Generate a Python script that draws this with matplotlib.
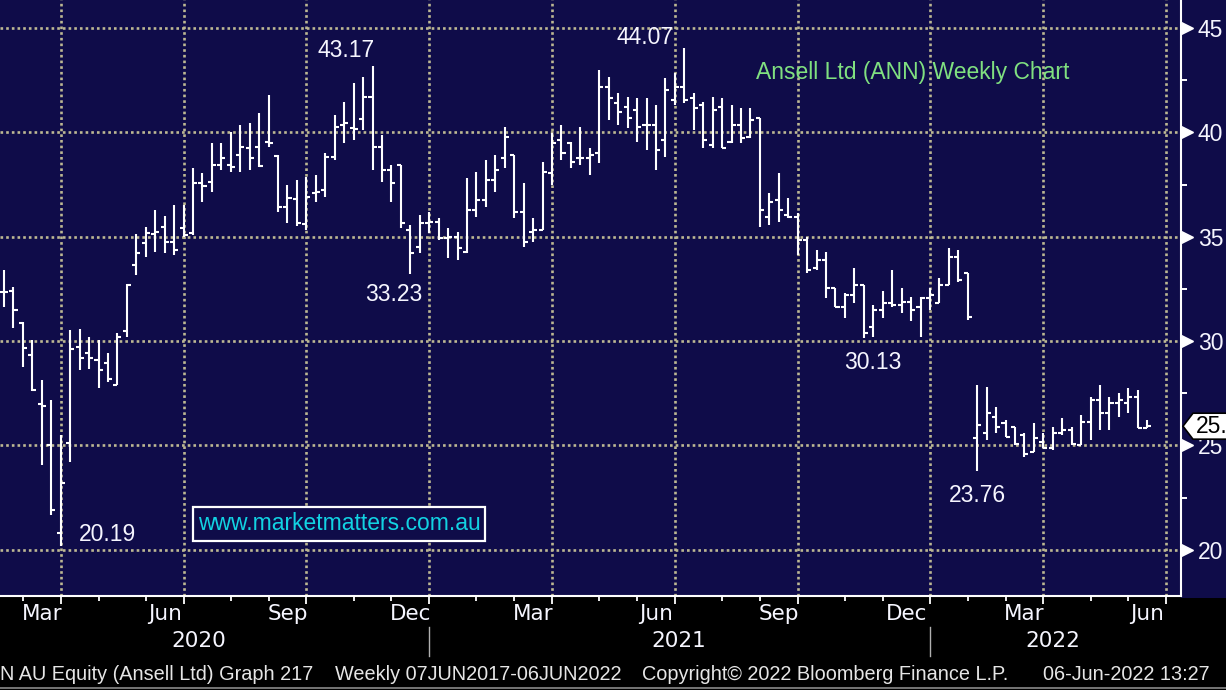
import numpy as np
import pandas as pd
import matplotlib
matplotlib.use("Agg")
import matplotlib.pyplot as plt
import matplotlib.dates as mdates
from matplotlib.transforms import blended_transform_factory, IdentityTransform
from matplotlib.patches import Rectangle, Polygon
from matplotlib.lines import Line2D

# ---------------- data (weekly OHLC) ----------------
FIRST_WEEK = "2020-02-14"

OPEN = [32.37, 32.41, 30.85, 29.33, 26.98, 25.01, 20.79, 25.10, 29.73, 29.41,
        29.09, 28.93, 27.89, 30.50, 33.64, 34.68, 35.13, 35.48, 34.76, 35.40,
        35.16, 37.56, 37.64, 38.44, 38.44, 38.92, 39.24, 39.31, 39.55, 38.87,
        36.44, 36.79, 35.60, 37.08, 37.24, 38.84, 40.35, 40.20, 40.63, 41.71,
        39.31, 38.20, 38.44, 35.32, 34.52, 35.64, 35.72, 34.92, 35.00, 34.28,
        36.28, 36.76, 37.72, 38.76, 38.92, 36.20, 35.24, 35.32, 38.04, 39.64,
        39.48, 38.76, 38.76, 39.00, 42.19, 41.39, 41.23, 41.07, 40.35, 40.35,
        39.64, 41.55, 42.19, 41.63, 41.31, 39.40, 41.23, 39.56, 40.35, 39.79,
        40.67, 35.96, 36.76, 36.04, 35.96, 34.84, 33.48, 33.88, 32.53, 31.64,
        32.21, 32.68, 30.69, 31.49, 31.81, 31.73, 31.89, 31.64, 32.05, 31.81,
        32.68, 34.04, 33.24, 25.34, 25.58, 26.37, 26.05, 25.89, 25.49, 24.69,
        25.17, 24.86, 25.57, 25.73, 25.01, 26.13, 27.17, 26.53, 27.01, 27.01,
        27.33, 25.81]

HIGH = [33.40, 32.60, 30.93, 30.05, 28.13, 27.17, 25.49, 30.53, 30.56, 30.18,
        30.05, 29.42, 30.38, 32.73, 35.13, 35.48, 36.28, 35.99, 36.52, 36.52,
        38.28, 38.04, 39.48, 39.48, 40.03, 40.35, 40.44, 40.92, 41.79, 38.92,
        37.48, 37.70, 37.88, 37.96, 39.00, 40.83, 41.47, 42.35, 42.67, 43.17,
        39.88, 38.44, 38.44, 35.56, 36.04, 36.20, 35.88, 35.40, 35.24, 37.80,
        38.12, 38.68, 38.92, 40.27, 38.92, 37.56, 35.88, 38.60, 39.96, 40.35,
        39.56, 40.27, 39.24, 42.99, 42.67, 41.87, 41.71, 41.63, 41.63, 41.31,
        42.59, 42.83, 44.07, 41.87, 41.47, 41.71, 41.63, 41.31, 41.15, 41.15,
        40.67, 37.08, 38.04, 36.84, 36.12, 35.00, 34.36, 34.28, 32.53, 32.30,
        33.48, 32.68, 31.73, 32.40, 33.40, 32.53, 32.13, 32.13, 32.53, 33.01,
        34.44, 34.36, 33.24, 27.89, 27.81, 26.85, 26.21, 25.89, 25.57, 26.05,
        25.57, 25.89, 26.29, 25.89, 26.45, 27.33, 27.89, 27.33, 27.49, 27.73,
        27.65, 26.21]

LOW = [31.64, 30.61, 28.77, 27.60, 24.06, 21.66, 20.19, 24.21, 28.61, 28.64,
       27.73, 28.03, 27.89, 30.21, 33.16, 34.04, 34.28, 34.20, 34.12, 35.00,
       35.08, 36.68, 37.16, 38.20, 38.12, 38.12, 38.20, 38.33, 39.31, 36.20,
       35.64, 35.50, 35.32, 36.68, 36.92, 38.68, 39.48, 39.64, 40.12, 38.20,
       37.64, 36.68, 35.40, 33.23, 34.20, 35.16, 34.84, 33.96, 33.88, 34.20,
       35.96, 36.44, 37.16, 38.28, 35.88, 34.52, 34.76, 35.32, 37.48, 38.68,
       38.28, 38.44, 37.96, 38.52, 40.59, 40.35, 40.20, 39.56, 39.16, 38.20,
       38.84, 41.31, 41.39, 40.12, 39.24, 39.24, 39.24, 39.48, 39.48, 39.72,
       35.48, 35.56, 35.72, 35.88, 34.12, 33.25, 33.40, 32.05, 31.64, 31.09,
       31.81, 30.13, 30.20, 31.09, 31.64, 31.33, 30.98, 30.21, 31.49, 31.81,
       32.68, 32.84, 31.01, 23.76, 25.25, 25.58, 25.41, 25.01, 24.45, 24.69,
       24.86, 24.77, 25.49, 25.01, 25.01, 25.25, 25.73, 25.73, 26.37, 26.53,
       25.81, 25.81]

CLOSE = [32.37, 31.49, 29.65, 27.65, 26.90, 21.90, 23.19, 29.60, 29.17, 29.17,
         28.61, 28.20, 30.19, 32.68, 34.22, 35.16, 35.24, 34.76, 34.36, 35.08,
         37.56, 37.43, 38.44, 38.76, 38.36, 39.31, 38.76, 38.40, 39.48, 36.41,
         36.84, 35.67, 36.90, 37.16, 38.84, 40.27, 40.44, 40.15, 41.71, 39.28,
         38.20, 37.56, 35.64, 34.20, 35.67, 35.72, 34.92, 35.00, 34.44, 36.28,
         36.76, 37.72, 38.20, 39.79, 36.20, 34.76, 35.32, 38.12, 39.48, 39.00,
         38.60, 38.76, 38.92, 42.19, 41.63, 40.99, 40.67, 40.27, 40.35, 39.16,
         42.03, 42.19, 41.55, 41.15, 39.64, 41.07, 39.24, 40.35, 39.72, 40.59,
         36.28, 36.68, 36.28, 35.96, 34.84, 33.40, 33.88, 32.53, 31.64, 32.21,
         32.68, 30.37, 31.49, 31.81, 31.73, 31.89, 31.49, 32.05, 32.21, 32.68,
         34.04, 32.92, 31.17, 25.97, 26.53, 25.89, 25.41, 25.09, 24.61, 25.33,
         24.86, 25.57, 25.73, 25.09, 26.13, 27.17, 26.53, 27.01, 27.17, 27.33,
         25.81, 25.92]

Y_TICKS = [20, 25, 30, 35, 40, 45]
Y_MINOR = [22.5, 27.5, 32.5, 37.5, 42.5]
MONTH_ABBR = {3: "Mar", 6: "Jun", 9: "Sep", 12: "Dec"}
YEAR_LABELS = ["2020", "2021", "2022"]
YEAR_LABEL_AT = ["2020-07-07", "2021-06-28", "2022-04-01"]

TITLE = "Ansell Ltd (ANN) Weekly Chart"
WATERMARK = "www.marketmatters.com.au"
FOOTER = ["N AU Equity (Ansell Ltd) Graph 217",
          "Weekly 07JUN2017-06JUN2022",
          "Copyright\u00a9 2022 Bloomberg Finance L.P.",
          "06-Jun-2022 13:27"]
FOOTER_X = [0, 335, 642, 1043]

# ---------------- style ----------------
NAVY = "#0f0c49"
GRID = "#bdb893"
WHITE = "#f6f6ff"
GREEN = "#80e080"
CYAN = "#12d2e2"
SANS = "Liberation Sans"
AXFONT = "DejaVu Sans"

W, H = 1226, 690
fig = plt.figure(figsize=(W / 100, H / 100), dpi=100, facecolor="black")
AX_R = 1181
AX_B = 596
ax = fig.add_axes([0, (H - AX_B) / H, AX_R / W, AX_B / H])
ax.set_facecolor(NAVY)

# navy strip behind the right-hand price axis
fig.add_artist(Rectangle((AX_R / W, (H - 598) / H), (W - AX_R) / W, 598 / H,
                         transform=fig.transFigure, facecolor=NAVY,
                         edgecolor="none", zorder=-1))

dates = pd.date_range(FIRST_WEEK, periods=len(CLOSE), freq="W-FRI")
x = mdates.date2num(dates)
TICK_DAYS = 3.0

ax.vlines(x, LOW, HIGH, color="white", lw=1.5, zorder=3)
ax.hlines(OPEN, x - TICK_DAYS, x, color="white", lw=1.5, zorder=3)
ax.hlines(CLOSE, x, x + TICK_DAYS, color="white", lw=1.5, zorder=3)

x_left = mdates.date2num(pd.Timestamp("2020-02-11"))
x_right = mdates.date2num(pd.Timestamp("2022-07-05"))
ax.set_xlim(x_left, x_right)
ax.set_ylim(17.78, 46.35)

# ---- x axis: month-end bars as ticks, quarter ends as grid ----
ext = pd.date_range("2020-01-03", "2022-07-29", freq="W-FRI")
s = pd.Series(ext, index=ext)
month_end = pd.to_datetime(s.groupby([s.index.year, s.index.month]).max().values)
me_num = mdates.date2num(month_end)
inside = (me_num >= x_left) & (me_num <= x_right)
q_mask = np.isin(month_end.month, [3, 6, 9, 12])
ax.set_xticks(me_num[inside & q_mask])
ax.set_xticks(me_num[inside], minor=True)
ax.set_xticklabels([])
ax.tick_params(axis="x", which="major", length=6, width=1.3, color="white",
               direction="out")
ax.tick_params(axis="x", which="minor", length=3.5, width=1.3, color="white",
               direction="out")

bt = blended_transform_factory(ax.transData, ax.transAxes)
for i in range(1, len(month_end)):
    if q_mask[i] and inside[i]:
        mid = (me_num[i] + me_num[i - 1]) / 2
        ax.text(mid, (AX_B - 614) / AX_B, MONTH_ABBR[month_end[i].month],
                transform=bt, ha="center", va="center", color=WHITE,
                fontsize=15.5, family=AXFONT)
        if month_end[i].month == 12:
            ax.add_line(Line2D([me_num[i], me_num[i]],
                               [(AX_B - 627) / AX_B, (AX_B - 656) / AX_B],
                               transform=bt, color="#b0b0b0", lw=1.0,
                               clip_on=False))
for lab, at in zip(YEAR_LABELS, YEAR_LABEL_AT):
    ax.text(mdates.date2num(pd.Timestamp(at)), (AX_B - 641) / AX_B, lab,
            transform=bt, ha="center", va="center", color=WHITE,
            fontsize=15.5, family=AXFONT)

# ---- y axis on the right ----
ax.yaxis.tick_right()
ax.set_yticks(Y_TICKS)
ax.set_yticks(Y_MINOR, minor=True)
ax.set_yticklabels([str(v) for v in Y_TICKS], family=SANS, fontsize=16.5,
                   color=WHITE)
ax.tick_params(axis="y", which="major", length=0, pad=12)
ax.tick_params(axis="y", which="minor", length=4.5, width=1.4, color="white")
yb = blended_transform_factory(ax.transAxes, ax.transData)
ax.plot([1.0 + 6 / AX_R] * len(Y_TICKS), Y_TICKS, ls="none", marker=">",
        ms=8.5, color="white", transform=yb, clip_on=False, zorder=5)

ax.grid(True, which="major", color=GRID, lw=1.9, linestyle=(0, (1, 1.15)))
ax.set_axisbelow(True)
for side in ("top", "left"):
    ax.spines[side].set_visible(False)
for side in ("bottom", "right"):
    ax.spines[side].set_color("white")
    ax.spines[side].set_linewidth(1.5)

# ---- annotations of extremes ----
ANNOTS = [(int(np.argmax(HIGH[:60])), "high", (-26, 16)),
          (int(np.argmax(HIGH)), "high", (-39, 10)),
          (43, "low", (-17, -21)),
          (91, "low", (9, -24)),
          (int(np.argmin(LOW)), "low", (47, 11)),
          (103, "low", (0, -24))]
for idx, kind, (dx, dy) in ANNOTS:
    val = HIGH[idx] if kind == "high" else LOW[idx]
    ax.annotate(f"{val:.2f}", xy=(x[idx], val), xytext=(dx * 0.72, dy * 0.72),
                textcoords="offset points", ha="center", va="center",
                color=WHITE, fontsize=16.5, family=SANS, zorder=6)

ax.text(913 / AX_R, 1 - 72 / AX_B, TITLE, transform=ax.transAxes,
        ha="center", va="center", color=GREEN, fontsize=16.5, family=SANS)

ax.text(339 / AX_R, 1 - 524 / AX_B, WATERMARK, transform=ax.transAxes,
        ha="center", va="center", color=CYAN, fontsize=16.5, family=SANS,
        zorder=6,
        bbox=dict(boxstyle="square,pad=0.22", facecolor=NAVY,
                  edgecolor="white", lw=1.6))

# ---- footer ----
for txt, fx in zip(FOOTER, FOOTER_X):
    fig.text(fx / W, (H - 675) / H, txt, ha="left", va="center",
             color="#e6e6e6", fontsize=14.3, family=SANS)
fig.add_artist(Line2D([0, 1], [(H - 688) / H] * 2, transform=fig.transFigure,
                      color="#8a8a8a", lw=1.2))

# ---- last price tag ----
fig.canvas.draw()
last = CLOSE[-1]
yd = ax.transData.transform((x[-1], last))[1]
tip = AX_R + 2
tag = Polygon([(tip, yd), (tip + 10, yd + 13), (W + 5, yd + 13),
               (W + 5, yd - 13), (tip + 10, yd - 13)], closed=True,
              transform=IdentityTransform(), facecolor="white",
              edgecolor="black", lw=1.2, zorder=10)
fig.add_artist(tag)
fig.text((tip + 13) / W, yd / H, f"{last:.2f}", ha="left", va="center",
         color="black", fontsize=16.5, family=SANS, zorder=11)

fig.savefig("out.png", dpi=100, facecolor="black")
